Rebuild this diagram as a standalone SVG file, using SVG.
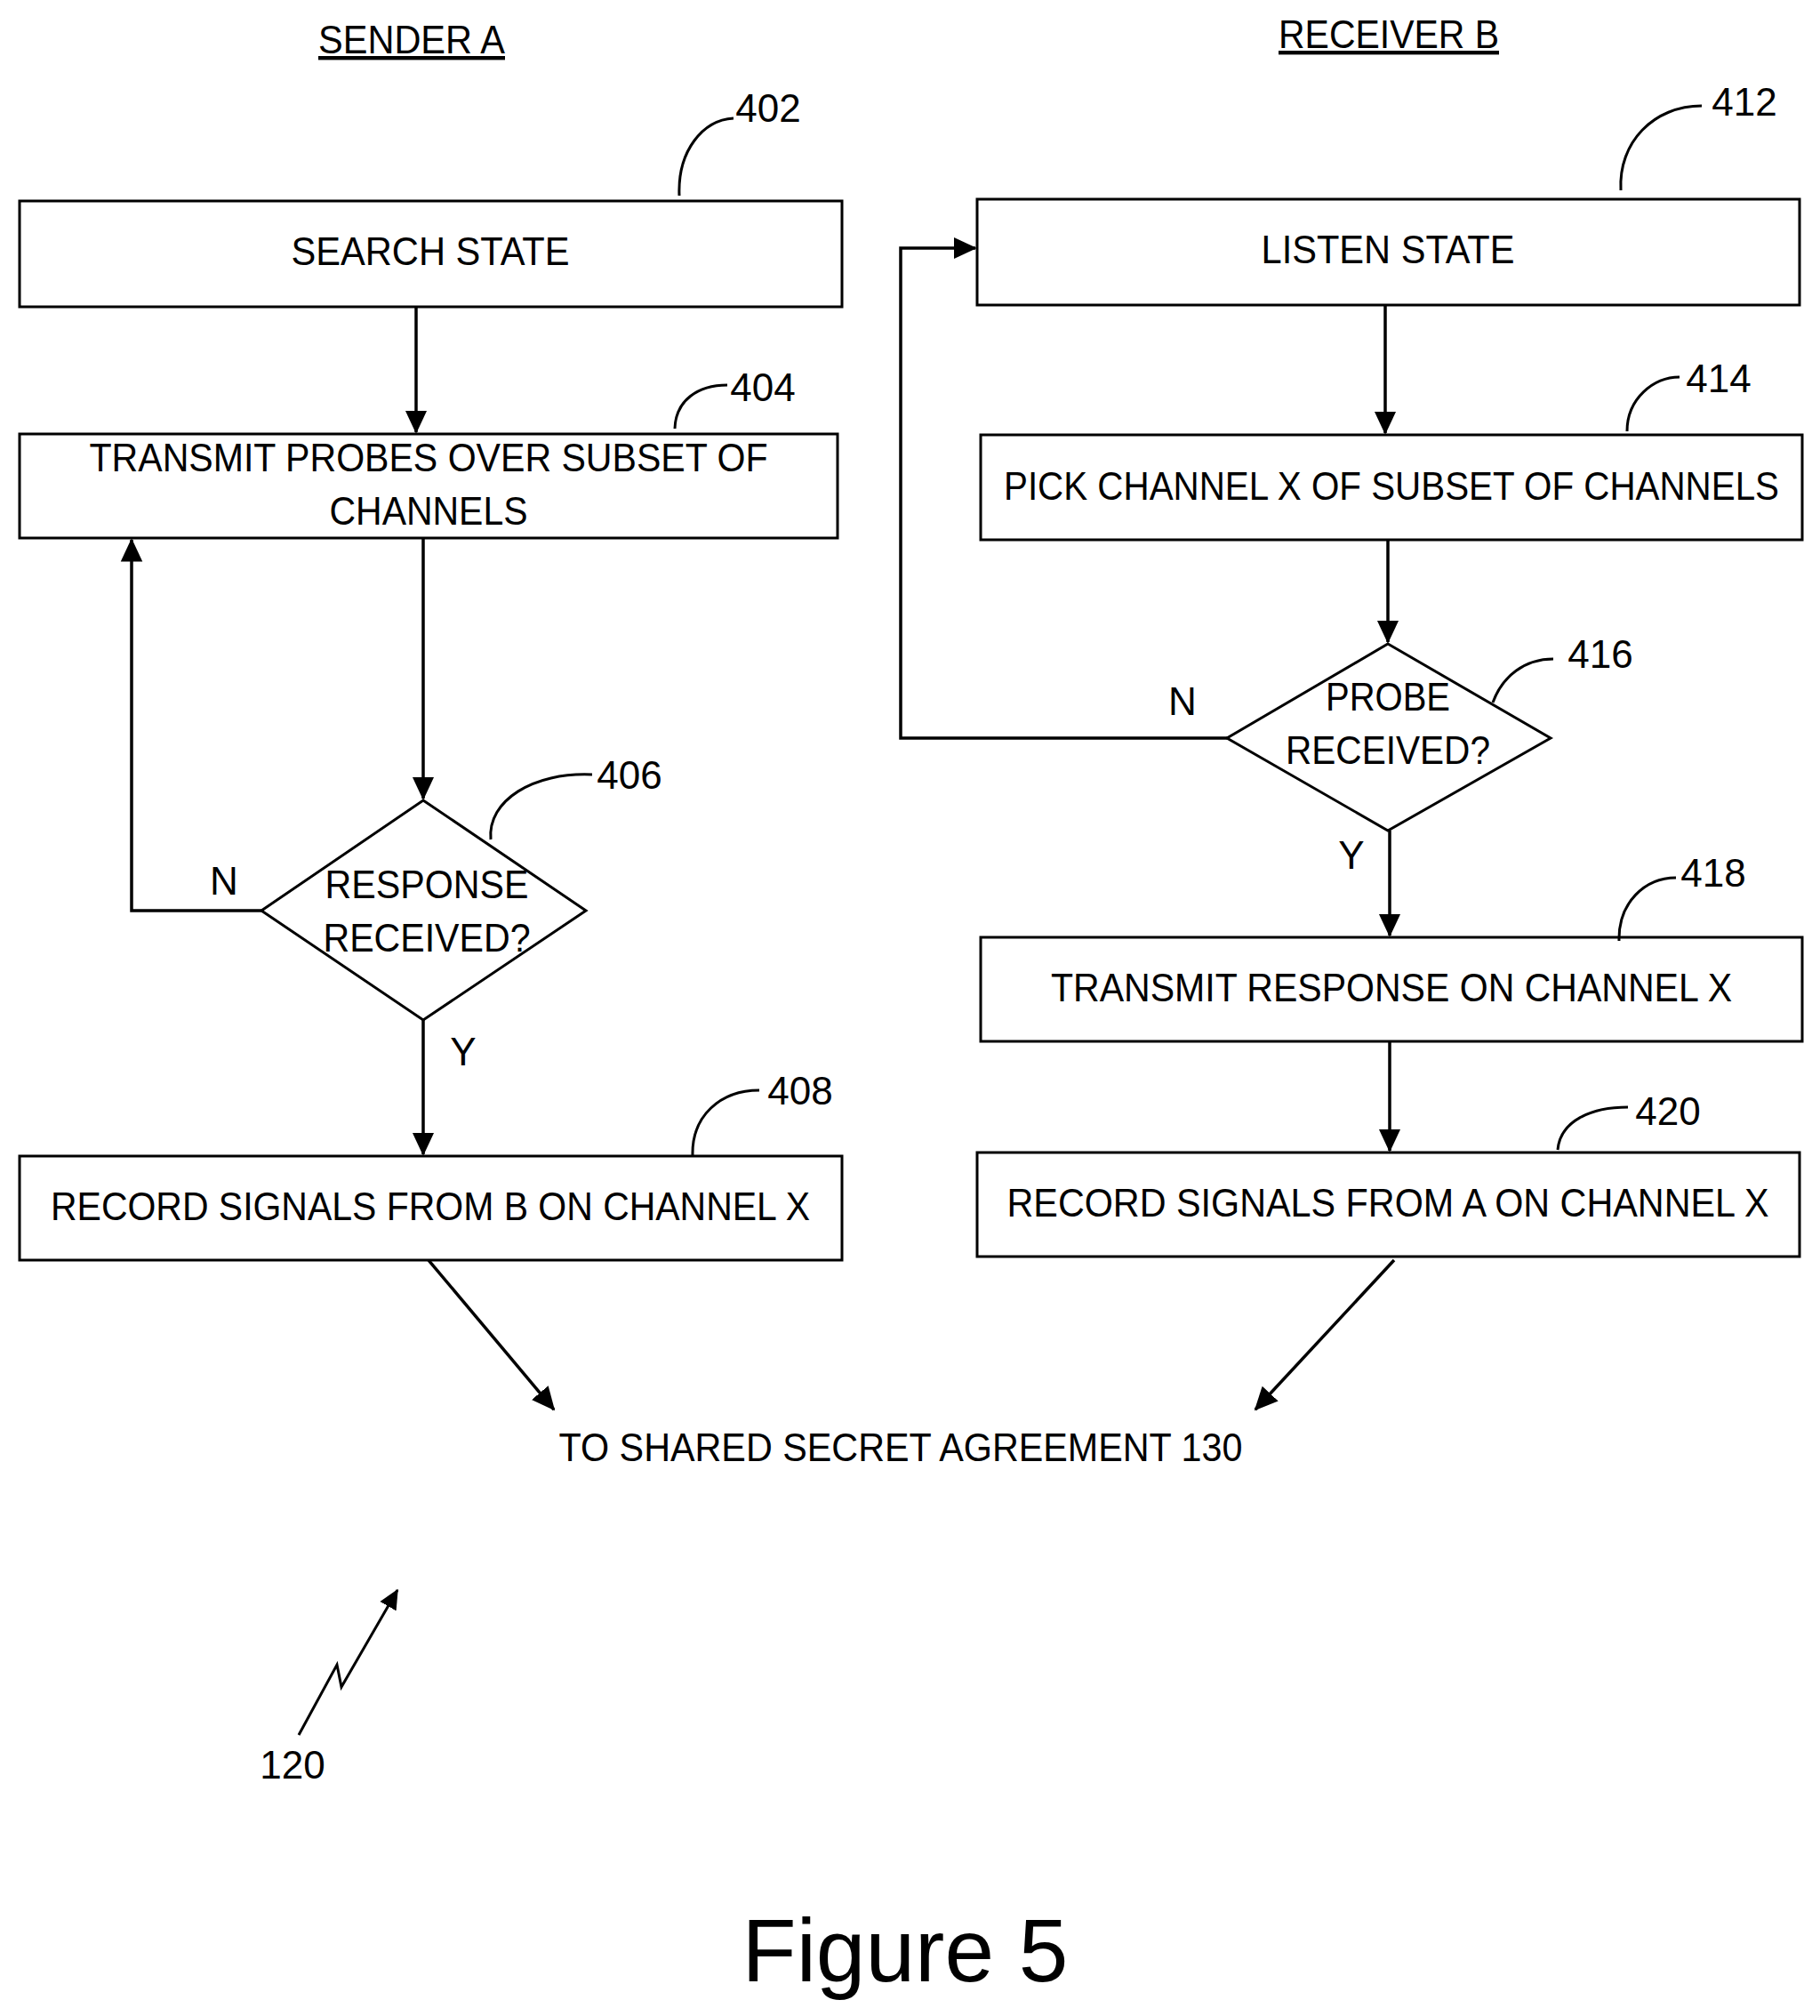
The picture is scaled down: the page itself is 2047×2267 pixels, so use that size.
<svg xmlns="http://www.w3.org/2000/svg" width="2047" height="2267" viewBox="0 0 2047 2267">
<style>
.b{fill:#fff;stroke:#000;stroke-width:3}
.t{font-family:"Liberation Sans",Arial,sans-serif;font-size:44px;text-anchor:middle;fill:#000}
.l{fill:none;stroke:#000;stroke-width:3.5}
.c{fill:none;stroke:#000;stroke-width:3}
</style>
<defs><marker id="a" markerWidth="8" markerHeight="8" refX="7" refY="4" orient="auto" markerUnits="strokeWidth"><path d="M0,0.5 L7.5,4 L0,7.5 z" fill="#000"/></marker></defs>
<rect width="2047" height="2267" fill="#fff"/>
<text class="t" x="463" y="60" text-decoration="underline" textLength="210" lengthAdjust="spacingAndGlyphs">SENDER A</text>
<text class="t" x="1562" y="54" text-decoration="underline" textLength="248" lengthAdjust="spacingAndGlyphs">RECEIVER B</text>
<g id="n402"><rect class="b" x="22" y="226" width="925" height="119"/><text class="t" x="484" y="298" textLength="313" lengthAdjust="spacingAndGlyphs">SEARCH STATE</text><path class="c" d="M764,220 C762,170 790,135 825,133"/><text class="t" x="864" y="137">402</text></g>
<g id="n404"><rect class="b" x="22" y="488" width="920" height="117"/><text class="t" x="482" y="530" textLength="763" lengthAdjust="spacingAndGlyphs">TRANSMIT PROBES OVER SUBSET OF</text><text class="t" x="482" y="590" textLength="223" lengthAdjust="spacingAndGlyphs">CHANNELS</text><path class="c" d="M759,482 C760,450 785,433 818,433"/><text class="t" x="858" y="451">404</text></g>
<g id="n406"><path class="b" d="M476,900 L659,1024 L476,1147 L294,1024 z"/><text class="t" x="480" y="1010" textLength="229" lengthAdjust="spacingAndGlyphs">RESPONSE</text><text class="t" x="480" y="1070" textLength="233" lengthAdjust="spacingAndGlyphs">RECEIVED?</text><path class="c" d="M552,944 C548,900 600,868 666,871"/><text class="t" x="708" y="887">406</text></g>
<g id="n408"><rect class="b" x="22" y="1300" width="925" height="117"/><text class="t" x="484" y="1372" textLength="854" lengthAdjust="spacingAndGlyphs">RECORD SIGNALS FROM B ON CHANNEL X</text><path class="c" d="M779,1299 C778,1255 810,1226 854,1226"/><text class="t" x="900" y="1242">408</text></g>
<g id="n412"><rect class="b" x="1099" y="224" width="925" height="119"/><text class="t" x="1561" y="296" textLength="285" lengthAdjust="spacingAndGlyphs">LISTEN STATE</text><path class="c" d="M1823,214 C1820,160 1860,119 1914,119"/><text class="t" x="1962" y="130">412</text></g>
<g id="n414"><rect class="b" x="1103" y="489" width="924" height="118"/><text class="t" x="1565" y="562" textLength="872" lengthAdjust="spacingAndGlyphs">PICK CHANNEL X OF SUBSET OF CHANNELS</text><path class="c" d="M1830,485 C1830,448 1860,424 1889,424"/><text class="t" x="1933" y="441">414</text></g>
<g id="n416"><path class="b" d="M1561,724 L1744,830 L1561,934 L1380,830 z"/><text class="t" x="1561" y="799" textLength="140" lengthAdjust="spacingAndGlyphs">PROBE</text><text class="t" x="1561" y="859" textLength="230" lengthAdjust="spacingAndGlyphs">RECEIVED?</text><path class="c" d="M1679,790 C1690,760 1715,741 1747,741"/><text class="t" x="1800" y="751">416</text></g>
<g id="n418"><rect class="b" x="1103" y="1054" width="924" height="117"/><text class="t" x="1565" y="1126" textLength="766" lengthAdjust="spacingAndGlyphs">TRANSMIT RESPONSE ON CHANNEL X</text><path class="c" d="M1821,1058 C1820,1015 1850,987 1885,987"/><text class="t" x="1927" y="997">418</text></g>
<g id="n420"><rect class="b" x="1099" y="1296" width="925" height="117"/><text class="t" x="1561" y="1368" textLength="857" lengthAdjust="spacingAndGlyphs">RECORD SIGNALS FROM A ON CHANNEL X</text><path class="c" d="M1752,1293 C1755,1260 1790,1245 1831,1245"/><text class="t" x="1876" y="1265">420</text></g>
<g id="end"><text class="t" x="1013" y="1643" textLength="769" lengthAdjust="spacingAndGlyphs">TO SHARED SECRET AGREEMENT 130</text></g>
<g id="connectors">
<path class="l" marker-end="url(#a)" d="M468,345 L468,486"/>
<path class="l" marker-end="url(#a)" d="M476,605 L476,898"/>
<path class="l" marker-end="url(#a)" d="M294,1024 L148,1024 L148,607"/>
<path class="l" marker-end="url(#a)" d="M476,1147 L476,1298"/>
<path class="l" marker-end="url(#a)" d="M1558,343 L1558,487"/>
<path class="l" marker-end="url(#a)" d="M1561,607 L1561,722"/>
<path class="l" marker-end="url(#a)" d="M1380,830 L1013,830 L1013,279 L1097,279"/>
<path class="l" marker-end="url(#a)" d="M1563,934 L1563,1052"/>
<path class="l" marker-end="url(#a)" d="M1563,1171 L1563,1294"/>
<path class="l" marker-end="url(#a)" d="M482,1417 L623,1585"/>
<path class="l" marker-end="url(#a)" d="M1568,1417 L1412,1585"/>
<text class="t" x="252" y="1006">N</text>
<text class="t" x="521" y="1198">Y</text>
<text class="t" x="1330" y="804">N</text>
<text class="t" x="1520" y="977">Y</text>
</g>
<g id="ref120"><path class="c" marker-end="url(#a)" d="M336,1951 L379,1872 L384,1897 L447,1788"/><text class="t" x="329" y="2000">120</text></g>
<text x="1018" y="2228" font-family="Liberation Sans,Arial,sans-serif" font-size="100" text-anchor="middle">Figure 5</text>
</svg>
